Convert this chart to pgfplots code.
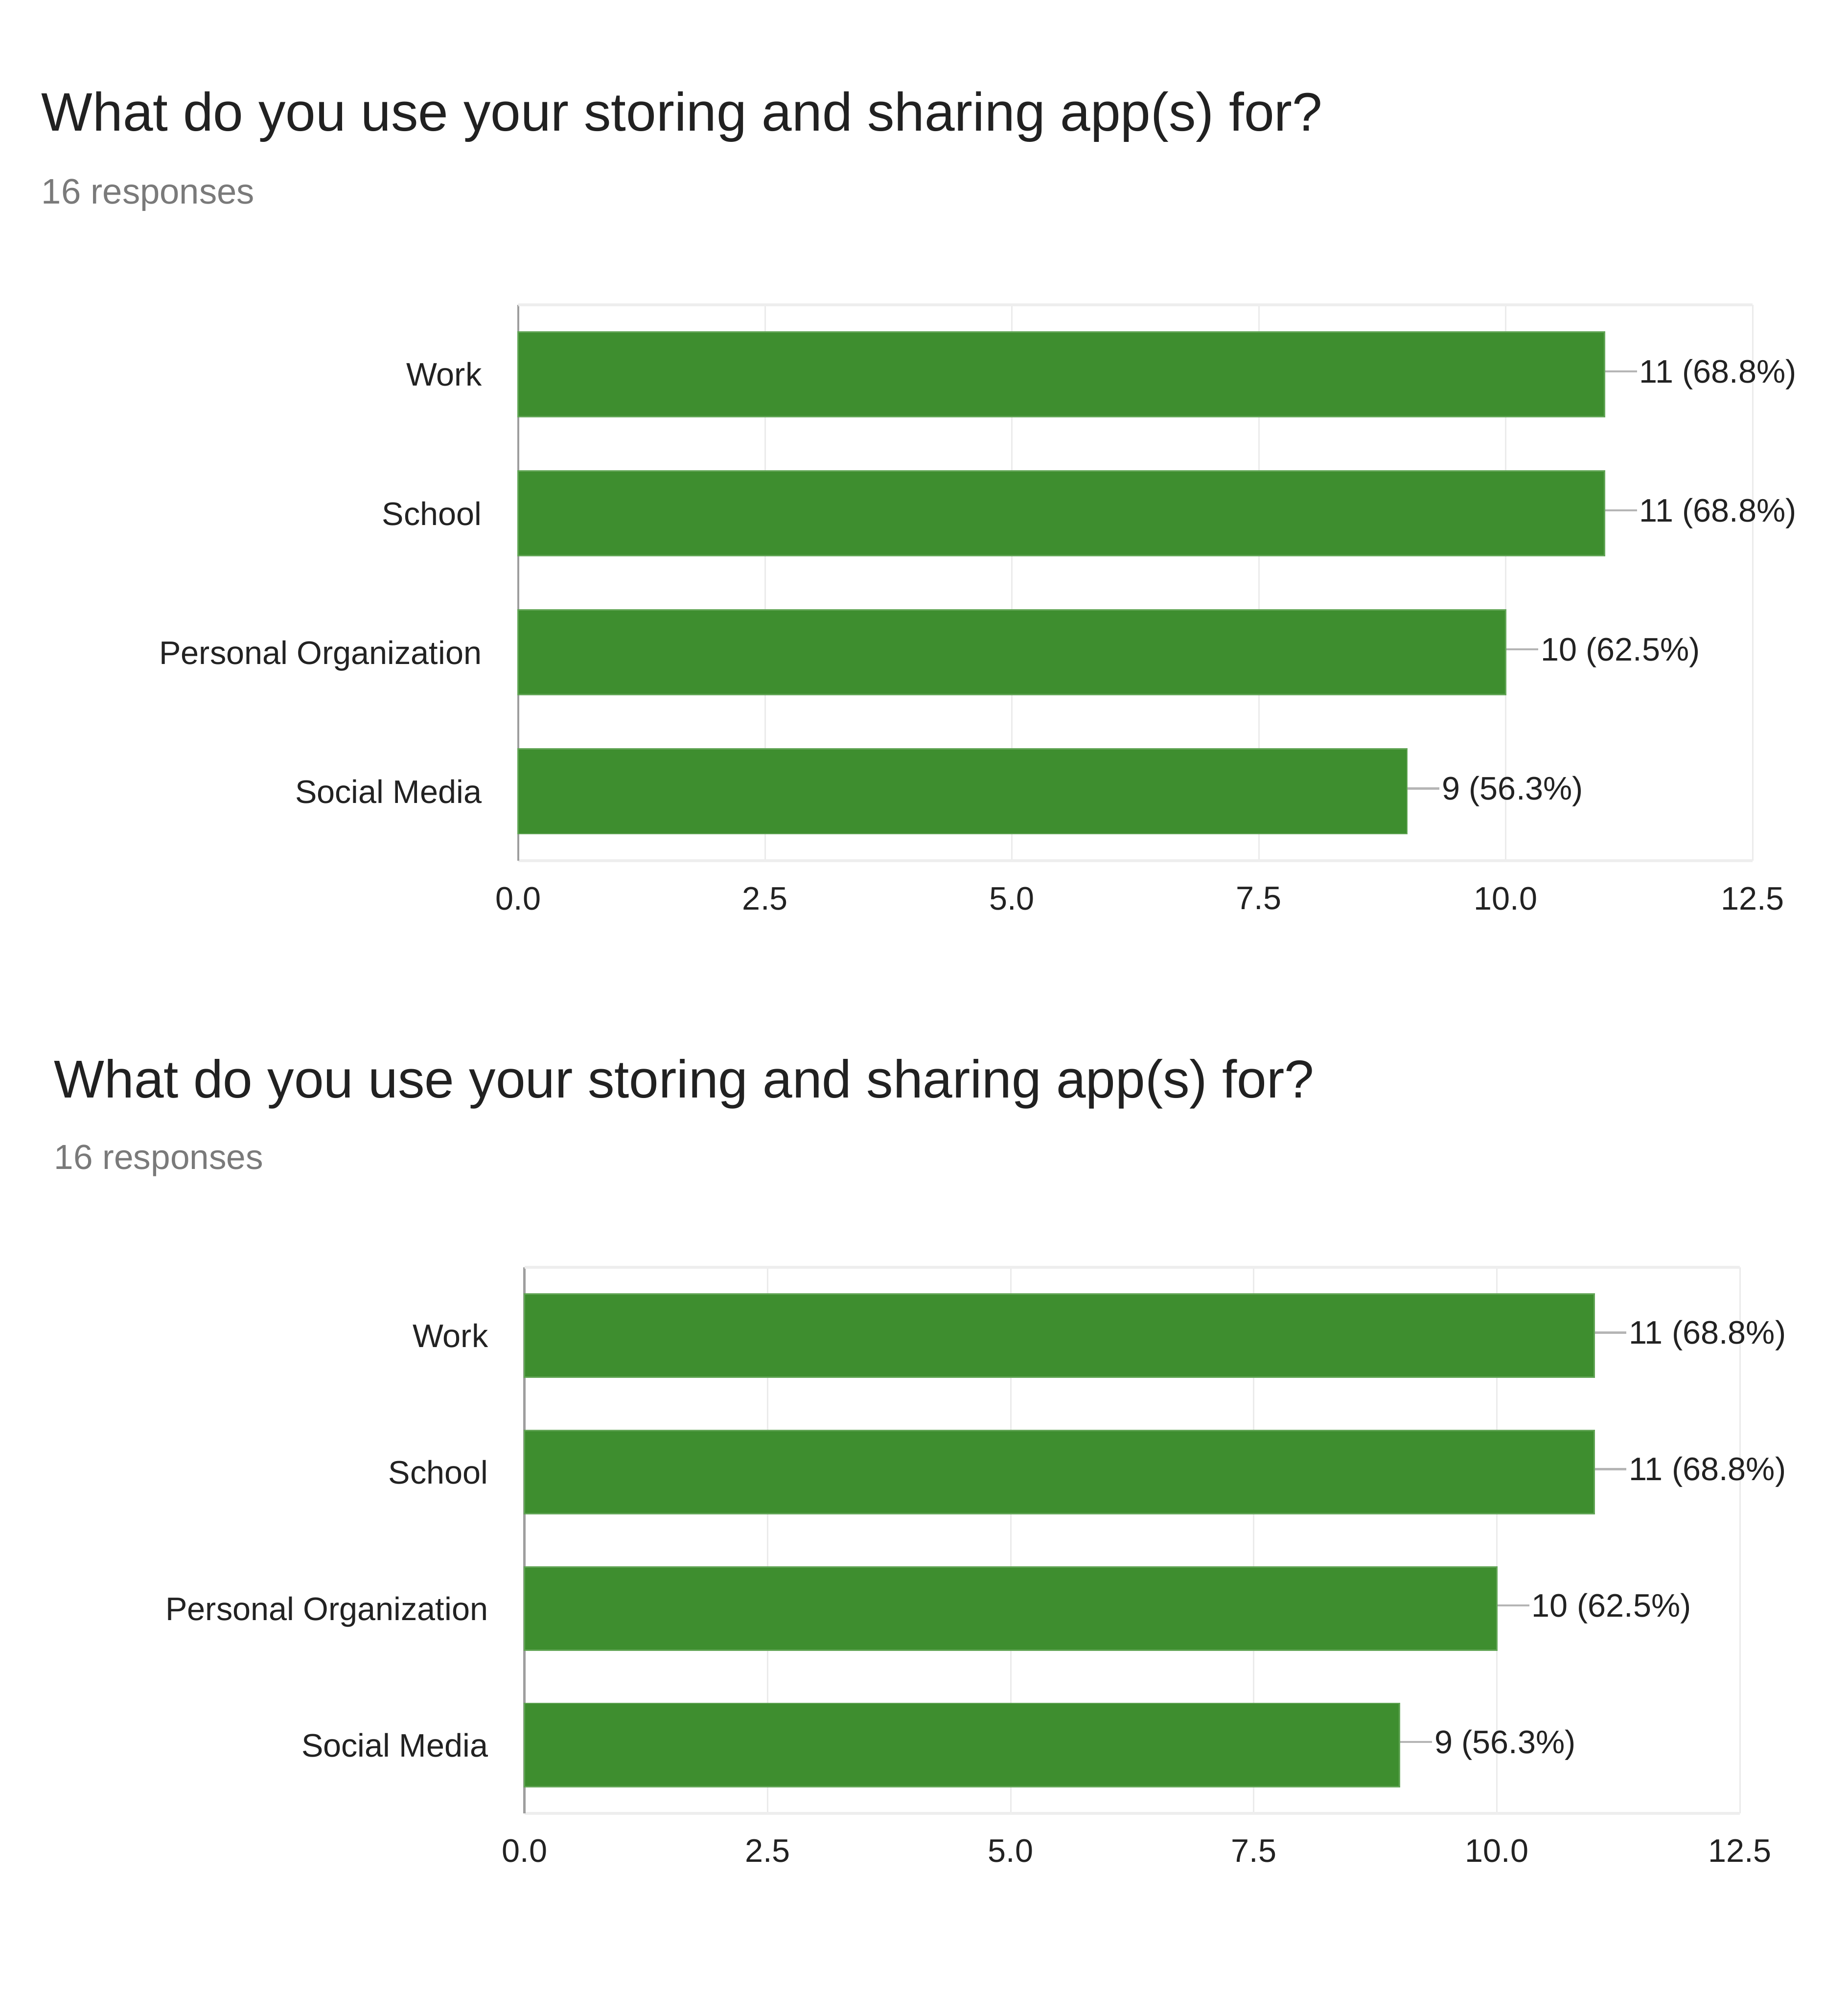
\documentclass[border=0pt]{standalone}
\usepackage{pgfplots}
\pgfplotsset{compat=1.18}
\usepackage{fontspec}
\setmainfont{Liberation Sans}
\definecolor{bargreen}{HTML}{3E8E2F}
\definecolor{baredge}{HTML}{62A556}
\definecolor{gridc}{HTML}{EBEBEB}
\definecolor{framec}{HTML}{EEEEEE}
\definecolor{zeroc}{HTML}{9E9E9E}
\definecolor{conn}{HTML}{B5B5B5}
\definecolor{subc}{HTML}{7A7A7A}
\definecolor{txt}{HTML}{222222}
\definecolor{ttl}{HTML}{212121}

\pgfplotsset{formsbar/.style={
  scale only axis,
  xbar, bar width=0.61,
  xmin=0, xmax=12.5,
  ymin=-0.5, ymax=3.5,
  clip=false,
  axis lines*=left,
  x axis line style={framec, line width=0.65pt},
  y axis line style={zeroc, line width=0.5pt},
  xtick={0,2.5,5,7.5,10,12.5},
  ytick={0,1,2,3},
  yticklabels={Social Media,Personal Organization,School,Work},
  xmajorgrids,
  grid style={gridc, line width=0.35pt},
  major tick length=0pt,
  tick style={draw=none},
  /pgf/number format/assume math mode=true,
  xticklabel={\pgfmathprintnumber[fixed,fixed zerofill,precision=1]{\tick}},
  xticklabel style={font=\fontsize{7.3}{8}\selectfont, text=txt, inner sep=0pt, anchor=north, yshift=-0.2cm},
  yticklabel style={font=\fontsize{7.3}{8}\selectfont, text=txt, inner sep=0pt, anchor=east, xshift=-0.28cm, text depth=0pt},
  nodes near coords={\textcolor{conn}{\rule[2.3pt]{0.25cm}{0.5pt}}\hspace{0.02cm}\pgfplotspointmeta},
  nodes near coords style={font=\fontsize{7.3}{8}\selectfont, text=txt, inner sep=0pt, anchor=west},
  point meta=explicit symbolic,
}}

\begin{document}
\begin{tikzpicture}
\useasboundingbox (0,0) rectangle (14.55cm,15.68cm);

\node[anchor=base west, inner sep=0pt, text=ttl, font=\fontsize{12.15}{14}\selectfont] at (0.32cm,14.647cm) {What do you use your storing and sharing app(s) for?};
\node[anchor=base west, inner sep=0pt, text=subc, font=\fontsize{7.95}{9}\selectfont] at (0.32cm,14.073cm) {16 responses};

\begin{axis}[formsbar, width=9.72cm, height=4.38cm, at={(4.08cm,8.90cm)}, anchor=south west]
\addplot[fill=bargreen, draw=baredge, line width=0.3pt] coordinates {
  (9,0) [9 (56.3\%)]
  (10,1) [10 (62.5\%)]
  (11,2) [11 (68.8\%)]
  (11,3) [11 (68.8\%)]
};
\draw[framec, line width=0.65pt] (rel axis cs:0,1) -- (rel axis cs:1,1);
\end{axis}

\node[anchor=base west, inner sep=0pt, text=ttl, font=\fontsize{11.95}{14}\selectfont] at (0.42cm,7.036cm) {What do you use your storing and sharing app(s) for?};
\node[anchor=base west, inner sep=0pt, text=subc, font=\fontsize{7.8}{9}\selectfont] at (0.42cm,6.47cm) {16 responses};

\begin{axis}[formsbar, width=9.57cm, height=4.30cm, at={(4.13cm,1.40cm)}, anchor=south west]
\addplot[fill=bargreen, draw=baredge, line width=0.3pt] coordinates {
  (9,0) [9 (56.3\%)]
  (10,1) [10 (62.5\%)]
  (11,2) [11 (68.8\%)]
  (11,3) [11 (68.8\%)]
};
\draw[framec, line width=0.65pt] (rel axis cs:0,1) -- (rel axis cs:1,1);
\end{axis}
\end{tikzpicture}
\end{document}
